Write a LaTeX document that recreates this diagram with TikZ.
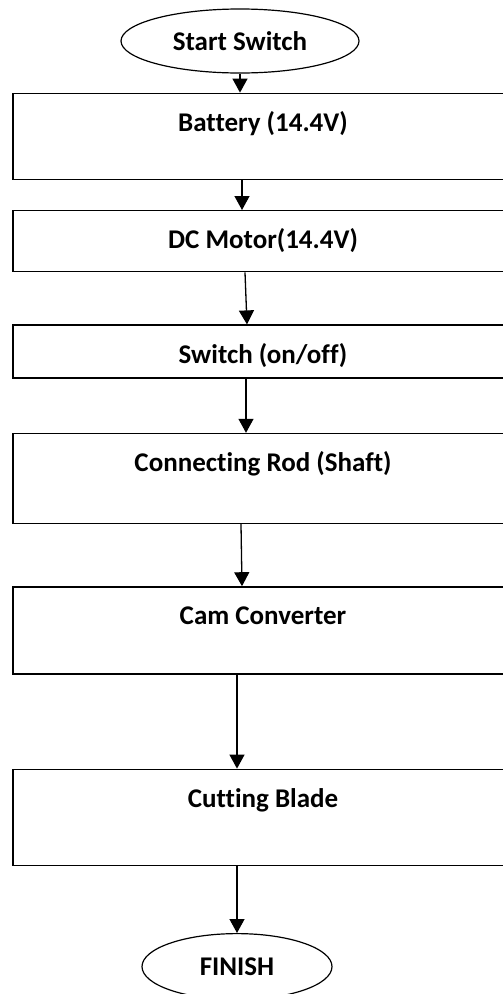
\documentclass[tikz,border=0pt]{standalone}
\usepackage{fontspec}
\setmainfont{Carlito}[Ligatures=NoCommon]
\usetikzlibrary{arrows.meta, positioning, shapes.geometric}

\begin{document}
\begin{tikzpicture}[
      x=1pt, y=-1pt,
      box/.style={draw, line width=1.4pt, minimum width=500pt, inner sep=0pt,
        text height=38pt, font=\fontsize{27}{32}\selectfont\bfseries},
      term/.style={draw, ellipse, line width=1.2pt, inner sep=0pt,
        font=\fontsize{27}{32}\selectfont\bfseries},
      flow/.style={->, line width=1.3pt},
      >={Triangle[length=14pt, width=15pt]}
    ]
      \useasboundingbox (0,0) rectangle (503,994);
      \clip (0,0) rectangle (503,994);
      \node[term, minimum width=238pt, minimum height=64pt] (start)
        at (240,41) {Start Switch};
      \node[box, text depth=48pt, below=19pt of start, xshift=23pt] (battery)
        {Battery (14.4V)};
      \node[box, text depth=23pt, below=30pt of battery] (motor)
        {DC Motor(14.4V)};
      \node[box, text depth=15pt, below=52pt of motor] (switch)
        {Switch (on/off)};
      \node[box, text depth=52pt, below=54pt of switch] (rod)
        {Connecting Rod (Shaft)};
      \node[box, text depth=49pt, below=62pt of rod] (cam)
        {Cam Converter};
      \node[box, text depth=58pt, below=94pt of cam] (blade)
        {Cutting Blade};
      \node[term, minimum width=190pt, minimum height=66pt,
        below=67pt of blade, xshift=-26pt] (finish) {FINISH};
      \draw[flow] (start.south) -- (start.south |- battery.north);
      \draw[flow] ([xshift=-21pt]battery.south) -- ([xshift=-21pt]motor.north);
      \draw[flow] ([xshift=-18pt]motor.south) -- ([xshift=-16pt]switch.north);
      \draw[flow] ([xshift=-17pt]switch.south) -- ([xshift=-17pt]rod.north);
      \draw[flow] ([xshift=-22pt]rod.south) -- ([xshift=-21pt]cam.north);
      \draw[flow] ([xshift=-26pt]cam.south) -- ([xshift=-26pt]blade.north);
      \draw[flow] ([xshift=-26pt]blade.south) -- (finish.north);
    \end{tikzpicture}
\end{document}
